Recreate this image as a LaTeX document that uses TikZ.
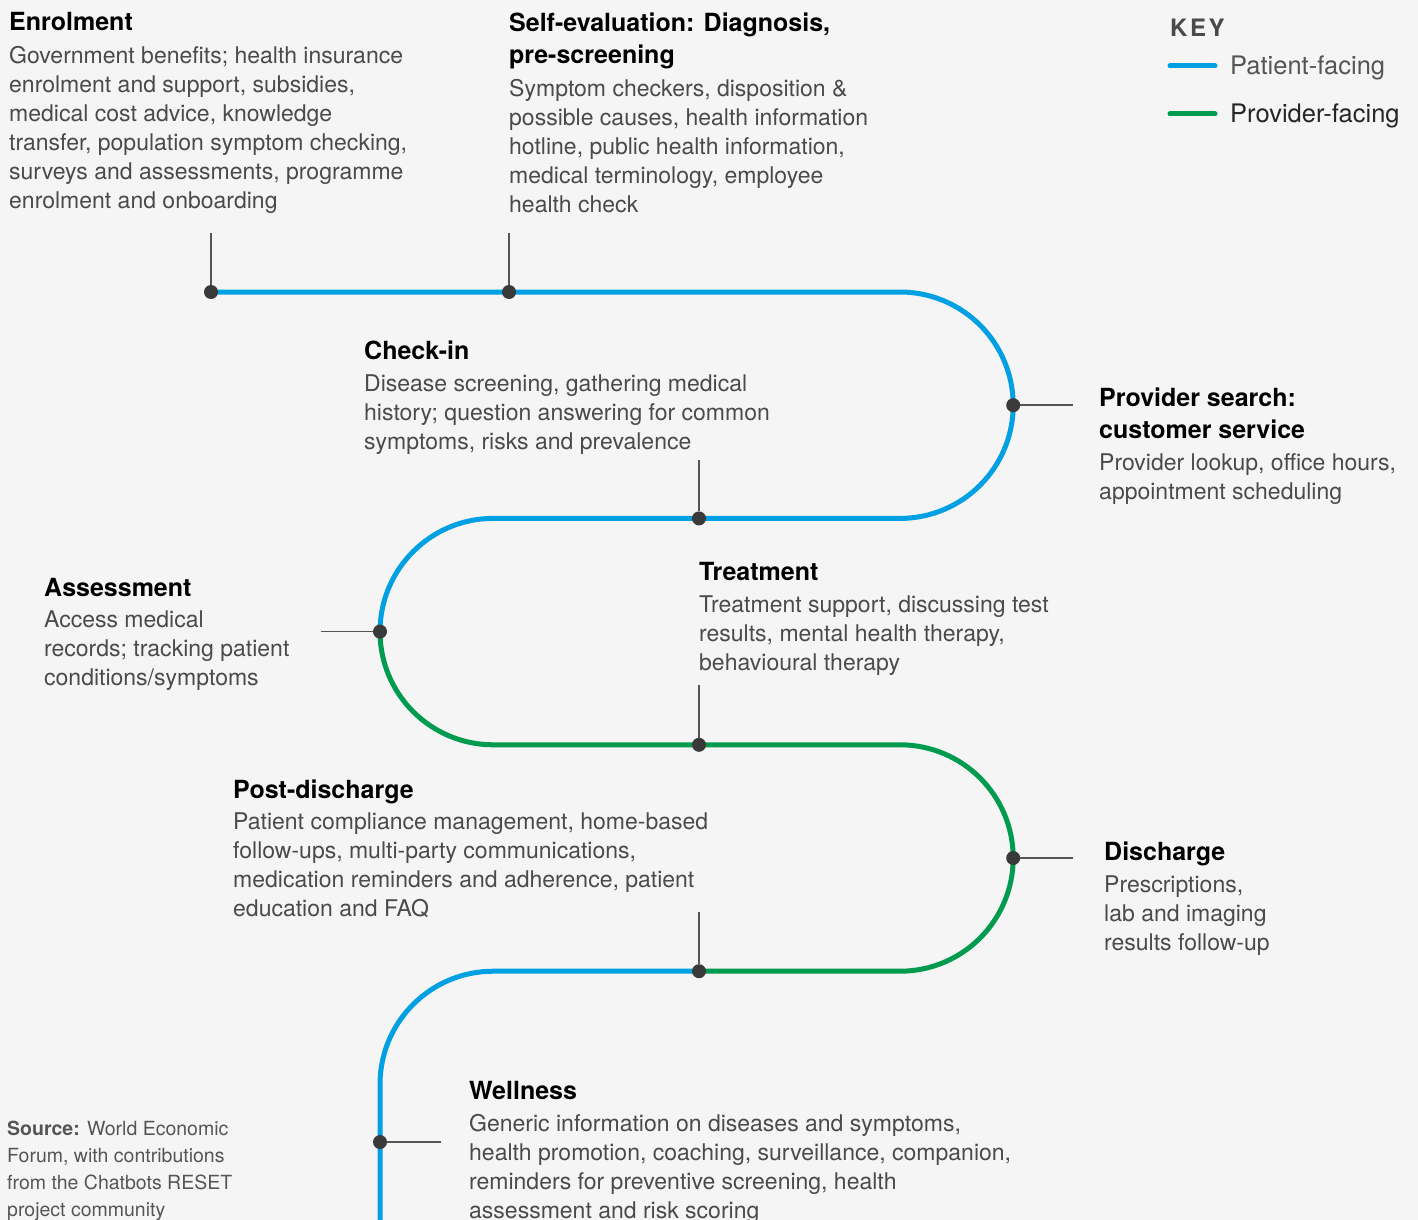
\documentclass[tikz,border=0pt]{standalone}
\usepackage{fontspec}
\setmainfont{TeX Gyre Heros}
\usepackage{tikz}
\usetikzlibrary{positioning}
\definecolor{bg}{HTML}{F5F5F5}
\definecolor{patient}{HTML}{00A0E3}
\definecolor{provider}{HTML}{009B4F}
\definecolor{dotgray}{HTML}{3A3A3A}
\definecolor{tickgray}{HTML}{555555}
\definecolor{bodygray}{HTML}{4A4A4A}

\tikzset{
	pat/.style={draw=patient, line width=5pt},
	prov/.style={draw=provider, line width=5pt},
	dot/.style={circle, fill=dotgray, inner sep=0pt, minimum size=14pt},
	tick/.style={draw=tickgray, line width=1.5pt},
	head/.style={anchor=base west, align=left, inner sep=0pt, text=black, font=\bfseries\fontsize{25}{32}\selectfont},
	body/.style={anchor=base west, align=left, inner sep=0pt, text=bodygray, font=\fontsize{23}{29}\selectfont}
}

\begin{document}
\begin{tikzpicture}[x=1pt,y=-1pt]
		\fill[bg] (0,0) rectangle (1418,1220);
		\useasboundingbox (0,0) rectangle (1418,1220);

		\coordinate(enr) at (211,292);
		\coordinate(self) at (509,292);
		\coordinate(srch) at (1013.2,405.2);
		\coordinate(chk) at (699,518.4);
		\coordinate(ass) at (380,631.6);
		\coordinate(trt) at (699,744.8);
		\coordinate(dis) at (1013.2,858);
		\coordinate(pdis) at (699,971.2);
		\coordinate(well) at (380,1142);

		\draw[pat] (enr) -- (self) -- (900,292) arc[start angle=-90, end angle=0, radius=113.2];
		\draw[pat] (srch) arc[start angle=0, end angle=90, radius=113.2] -- (chk) -- (493.2,518.4) arc[start angle=-90, end angle=-180, radius=113.2];
		\draw[prov] (ass) arc[start angle=180, end angle=90, radius=113.2] -- (trt) -- (900,744.8) arc[start angle=-90, end angle=0, radius=113.2];
		\draw[prov] (dis) arc[start angle=0, end angle=90, radius=113.2] -- (pdis);
		\draw[pat] (pdis) -- (493.2,971.2) arc[start angle=-90, end angle=-180, radius=113.2] -- (well) -- (380,1230);

		\node[dot](enrd) at (enr){};
		\node[dot](selfd) at (self){};
		\node[dot](srchd) at (srch){};
		\node[dot](chkd) at (chk){};
		\node[dot](assd) at (ass){};
		\node[dot](trtd) at (trt){};
		\node[dot](disd) at (dis){};
		\node[dot](pdisd) at (pdis){};
		\node[dot](welld) at (well){};

		\coordinate(enrt) at (211,233);
		\coordinate(selft) at (509,233);
		\coordinate(srcht) at (1073,405.2);
		\coordinate(chkt) at (699,460);
		\coordinate(asst) at (321,631.6);
		\coordinate(trtt) at (699,685);
		\coordinate(dist) at (1073,858);
		\coordinate(pdist) at (699,912);
		\coordinate(wellt) at (441,1142);

		\draw[tick] (enrd) -- (enrt);
		\draw[tick] (selfd) -- (selft);
		\draw[tick] (srchd) -- (srcht);
		\draw[tick] (chkd) -- (chkt);
		\draw[tick] (assd) -- (asst);
		\draw[tick] (trtd) -- (trtt);
		\draw[tick] (disd) -- (dist);
		\draw[tick] (pdisd) -- (pdist);
		\draw[tick] (welld) -- (wellt);

		% multi-line nodes sit on the baseline of their last line
		\node[head](enrh) at (9,31){Enrolment};
		\node[body](enrb) at (9,208){Government benefits; health insurance\\enrolment and support, subsidies,\\medical cost advice, knowledge\\transfer, population symptom checking,\\surveys and assessments, programme\\enrolment and onboarding};

		\node[head](selfh) at (509,64){Self-evaluation: Diagnosis,\\pre-screening};
		\node[body](selfb) at (509,212){Symptom checkers, disposition \&\\possible causes, health information\\hotline, public health information,\\medical terminology, employee\\health check};

		\node[head](chkh) at (364,359){Check-in};
		\node[body](chkb) at (364,449){Disease screening, gathering medical\\history; question answering for common\\symptoms, risks and prevalence};

		\node[head](srchh) at (1099,438){Provider search:\\customer service};
		\node[body](srchb) at (1099,499){Provider lookup, office hours,\\appointment scheduling};

		\node[head](assh) at (44,596){Assessment};
		\node[body](assb) at (44,685){Access medical\\records; tracking patient\\conditions/symptoms};

		\node[head](trth) at (699,580){Treatment};
		\node[body](trtb) at (699,670){Treatment support, discussing test\\results, mental health therapy,\\behavioural therapy};

		\node[head](pdish) at (233,798){Post-discharge};
		\node[body](pdisb) at (233,916){Patient compliance management, home-based\\follow-ups, multi-party communications,\\medication reminders and adherence, patient\\education and FAQ};

		\node[head](dish) at (1104,860){Discharge};
		\node[body](disb) at (1104,950){Prescriptions,\\lab and imaging\\results follow-up};

		\node[head](wellh) at (469,1099){Wellness};
		\node[body](wellb) at (469,1218){Generic information on diseases and symptoms,\\health promotion, coaching, surveillance, companion,\\reminders for preventive screening, health\\assessment and risk scoring};

		\node[body, text=tickgray, font=\fontsize{19.5}{27}\selectfont](src) at (7,1216){\textbf{Source:} World Economic\\Forum, with contributions\\from the Chatbots RESET\\project community};

		\node[head, text=bodygray, font=\bfseries\fontsize{24}{30}\selectfont](key) at (1170,37){K\kern2.5pt E\kern2.5pt Y};
		\node[body, text=tickgray, font=\fontsize{25.5}{30}\selectfont](keyp) at (1230,75){Patient-facing};
		\node[body, text=black!85, font=\fontsize{25.5}{30}\selectfont](keyv) at (1230,123){Provider-facing};
		\draw[pat, line cap=round] (1170,66) -- (1215,66);
		\draw[prov, line cap=round] (1170,114) -- (1215,114);
	\end{tikzpicture}
\end{document}
